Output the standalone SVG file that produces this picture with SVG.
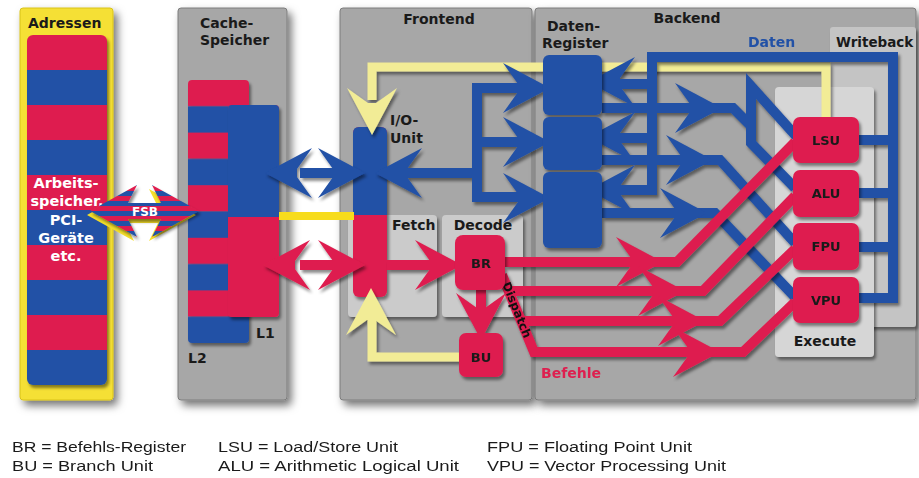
<svg xmlns="http://www.w3.org/2000/svg" width="919" height="478" viewBox="0 0 919 478">
<defs>
<style>
.lbl{font-family:"DejaVu Sans",sans-serif;font-weight:bold;font-size:14px;fill:#1a1a1a}
.ctr{text-anchor:middle}
.wl{font-family:"DejaVu Sans",sans-serif;font-weight:bold;font-size:14.5px;fill:#fff;text-anchor:middle}
.leg{font-family:"Liberation Sans",sans-serif;font-size:15.5px;fill:#1a1a1a}
.panel{fill:#a7a7a7;stroke:#7c7c7c;stroke-width:1}
.inner{fill:#cbcbcb}
.bl{fill:none;stroke:#2251a6;stroke-width:10;stroke-linejoin:miter}
.rd{fill:none;stroke:#de1f4f;stroke-width:10;stroke-linejoin:miter}
.yl{fill:none;stroke:#f2ec96;stroke-width:9}
.bf{fill:#2251a6}
.rf{fill:#de1f4f}
.yf{fill:#f2ec96}
</style>
<filter id="sh" filterUnits="userSpaceOnUse" x="0" y="0" width="919" height="478"><feDropShadow dx="4" dy="5" stdDeviation="4" flood-color="#000" flood-opacity="0.55"/></filter>
<filter id="sh2" filterUnits="userSpaceOnUse" x="0" y="0" width="919" height="478"><feDropShadow dx="2" dy="3" stdDeviation="1.5" flood-color="#000" flood-opacity="0.45"/></filter>
<path id="ah" d="M0,0 L-47,-25 L-32,-4 L-32,4 L-47,25 Z"/>
<pattern id="memp" x="0" y="35" width="20" height="70" patternUnits="userSpaceOnUse"><rect width="20" height="35" fill="#de1f4f"/><rect y="35" width="20" height="35" fill="#2251a6"/></pattern>
<pattern id="l2p" x="0" y="80" width="20" height="52.6" patternUnits="userSpaceOnUse"><rect width="20" height="26.3" fill="#de1f4f"/><rect y="26.3" width="20" height="26.3" fill="#2251a6"/></pattern>
<pattern id="fsbp" x="0" y="186" width="20" height="10" patternUnits="userSpaceOnUse"><rect width="20" height="5" fill="#de1f4f"/><rect y="5" width="20" height="5" fill="#2251a6"/></pattern>
</defs>
<rect width="919" height="478" fill="#fff"/>

<g id="adressen">
<rect x="20" y="8" width="93" height="392" rx="3" fill="#f5e035" stroke="#d8c21c" filter="url(#sh)"/>
<text class="lbl" x="28" y="28">Adressen</text>
<rect x="27" y="35" width="80" height="350" rx="6" fill="url(#memp)" filter="url(#sh2)"/>
<text class="wl" x="66" y="188">Arbeits-</text>
<text class="wl" x="67" y="206">speicher,</text>
<text class="wl" x="66" y="225">PCI-</text>
<text class="wl" x="66" y="243">Geräte</text>
<text class="wl" x="66" y="261">etc.</text>
</g>

<g id="cache">
<rect class="panel" x="178" y="8" width="109" height="392" rx="3" filter="url(#sh)"/>
<text class="lbl" x="200" y="28">Cache-</text>
<text class="lbl" x="200" y="45">Speicher</text>
<text class="lbl" x="188" y="363">L2</text>
<text class="lbl" x="256" y="338">L1</text>
</g>
<g id="l2"><rect x="188" y="80" width="61" height="263" rx="4" fill="url(#l2p)" filter="url(#sh2)"/></g>
<g id="l1" filter="url(#sh2)">
<rect x="228" y="105" width="51" height="212" rx="4" class="rf"/>
<path class="bf" d="M228,217 V109 Q228,105 232,105 H275 Q279,105 279,109 V217 Z"/>
</g>

<g id="frontend">
<rect class="panel" x="340" y="8" width="192" height="392" rx="3" filter="url(#sh)"/>
<text class="lbl ctr" x="439" y="24">Frontend</text>
</g>
<g id="backend">
<rect class="panel" x="535" y="8" width="381" height="392" rx="3" filter="url(#sh)"/>
<text class="lbl ctr" x="687" y="23">Backend</text>
<text class="lbl" x="547" y="31">Daten-</text>
<text class="lbl" x="542" y="48">Register</text>
</g>
<g id="writeback">
<rect x="830" y="27" width="86" height="300" rx="3" fill="#c4c4c4" filter="url(#sh2)"/>
<text class="lbl" x="836" y="47" style="font-size:13.5px">Writeback</text>
</g>
<g id="execute">
<rect x="775" y="87" width="99" height="270" rx="4" fill="#d6d6d6" filter="url(#sh2)"/>
<text class="lbl ctr" x="825" y="346">Execute</text>
</g>
<g id="fetch">
<rect class="inner" x="348" y="215" width="89" height="102" rx="4" filter="url(#sh2)"/>
<text class="lbl" x="392" y="230">Fetch</text>
</g>
<g id="decode">
<rect class="inner" x="442" y="215" width="81" height="102" rx="4" filter="url(#sh2)"/>
<text class="lbl ctr" x="483" y="230">Decode</text>
</g>
<g id="io-unit">
<g filter="url(#sh2)">
<rect x="353" y="127" width="34" height="170" rx="6" class="rf"/>
<path class="bf" d="M353,215 V133 Q353,127 359,127 H381 Q387,127 387,133 V215 Z"/>
</g>
<text class="lbl" x="390" y="125">I/O-</text>
<text class="lbl" x="390" y="143">Unit</text>
</g>

<g id="connectors">
<g id="fsb">
<polygon points="87,215 134,189 125,207 158,207 149,189 196,215 149,241 158,223 125,223 134,241" fill="#f5df2b"/>
<polygon points="90,211 137,185 128,203 161,203 152,185 199,211 152,237 161,219 128,219 137,237" fill="url(#fsbp)" filter="url(#sh2)"/>
<text x="145" y="216" style="font-family:'DejaVu Sans',sans-serif;font-weight:bold;font-size:12px;fill:#fff;text-anchor:middle">FSB</text>
</g>
<rect x="279" y="212" width="75" height="8" fill="#f7dc1c"/>
<g id="yellow" filter="url(#sh2)">
<path class="yl" d="M826,117 V67 H372 V100"/>
<use href="#ah" class="yf" transform="translate(372,135) rotate(90)"/>
<path class="yl" d="M459,357 H372 V320"/>
<use href="#ah" class="yf" transform="translate(371,288) rotate(-90)"/>
</g>
<g id="blue" filter="url(#sh2)">
<path class="bl" d="M300,173 H335"/>
<use href="#ah" class="bf" transform="translate(265,173) rotate(180)"/>
<use href="#ah" class="bf" transform="translate(365,173)"/>
<path class="bl" d="M525,88 H477 V197 H525 M477,142 H525 M477,173 H405"/>
<use href="#ah" class="bf" transform="translate(375,173) rotate(180)"/>
<use href="#ah" class="bf" transform="translate(550,88)"/>
<use href="#ah" class="bf" transform="translate(550,142)"/>
<use href="#ah" class="bf" transform="translate(550,198)"/>
<path class="bl" d="M859,140 H893 M859,193 H893 M859,247 H893 M859,298 H893 V57 H652 V190 H620 M652,84 H620 M652,138 H620"/>
<use href="#ah" class="bf" transform="translate(588,82) rotate(180)"/>
<use href="#ah" class="bf" transform="translate(588,137) rotate(180)"/>
<use href="#ah" class="bf" transform="translate(588,190) rotate(180)"/>
<path class="bl" d="M602,108 H733 L752,127"/>
<path class="bl" d="M796,136 L751,86 V143 L795,188"/>
<use href="#ah" class="bf" transform="translate(722,108)"/>
<path class="bl" d="M602,160 H720 L795,243"/>
<use href="#ah" class="bf" transform="translate(713,160)"/>
<path class="bl" d="M602,213 H715 L795,297"/>
<use href="#ah" class="bf" transform="translate(707,213)"/>
</g>
<g id="red" filter="url(#sh2)">
<path class="rd" d="M300,265 H335"/>
<use href="#ah" class="rf" transform="translate(263,265) rotate(180)"/>
<use href="#ah" class="rf" transform="translate(365,265)"/>
<path class="rd" d="M387,265 H440"/>
<use href="#ah" class="rf" transform="translate(462,265)"/>
<path class="rd" d="M481,290 V312"/>
<use href="#ah" class="rf" transform="translate(481,340) rotate(90)"/>
<path class="rd" d="M505,262 H677 L795,142"/>
<use href="#ah" class="rf" transform="translate(663,262)"/>
<path class="rd" d="M505,291 H703 L795,196"/>
<use href="#ah" class="rf" transform="translate(685,291)"/>
<path class="rd" d="M521,321 H720 L795,249"/>
<use href="#ah" class="rf" transform="translate(705,321)"/>
<path class="rd" d="M502,275 L534,352 H743 L795,302"/>
<use href="#ah" class="rf" transform="translate(720,352)"/>
</g>
<text x="0" y="0" transform="translate(502,284) rotate(68)" style="font-family:'DejaVu Sans',sans-serif;font-weight:bold;font-size:12px;fill:#111">Dispatch</text>
<text class="lbl" x="541" y="378" style="fill:#de1f4f">Befehle</text>
<text class="lbl" x="748" y="47" style="fill:#2251a6">Daten</text>
</g>

<g id="daten-register" filter="url(#sh2)">
<rect class="bf" x="543" y="55" width="59" height="60" rx="6"/>
<rect class="bf" x="543" y="117" width="59" height="53" rx="6"/>
<rect class="bf" x="543" y="172" width="59" height="76" rx="6"/>
</g>

<g id="br"><rect class="rf" x="455" y="235" width="50" height="55" rx="8" filter="url(#sh2)"/><text class="lbl ctr" x="481" y="268" style="font-size:13px">BR</text></g>
<g id="bu"><rect class="rf" x="459" y="333" width="44" height="44" rx="7" filter="url(#sh2)"/><text class="lbl ctr" x="481" y="362" style="font-size:13px">BU</text></g>
<g id="lsu"><rect class="rf" x="793" y="117" width="66" height="46" rx="7" filter="url(#sh2)"/><text class="lbl ctr" x="826" y="145" style="font-size:13px">LSU</text></g>
<g id="alu"><rect class="rf" x="793" y="170" width="66" height="47" rx="7" filter="url(#sh2)"/><text class="lbl ctr" x="826" y="198" style="font-size:13px">ALU</text></g>
<g id="fpu"><rect class="rf" x="793" y="223" width="66" height="47" rx="7" filter="url(#sh2)"/><text class="lbl ctr" x="826" y="251" style="font-size:13px">FPU</text></g>
<g id="vpu"><rect class="rf" x="793" y="277" width="66" height="46" rx="7" filter="url(#sh2)"/><text class="lbl ctr" x="826" y="305" style="font-size:13px">VPU</text></g>

<g id="legend">
<text class="leg" x="12" y="452" textLength="174" lengthAdjust="spacingAndGlyphs">BR = Befehls-Register</text>
<text class="leg" x="12" y="471" textLength="141" lengthAdjust="spacingAndGlyphs">BU = Branch Unit</text>
<text class="leg" x="218" y="452" textLength="180" lengthAdjust="spacingAndGlyphs">LSU = Load/Store Unit</text>
<text class="leg" x="218" y="471" textLength="241" lengthAdjust="spacingAndGlyphs">ALU = Arithmetic Logical Unit</text>
<text class="leg" x="487" y="452" textLength="205" lengthAdjust="spacingAndGlyphs">FPU = Floating Point Unit</text>
<text class="leg" x="487" y="471" textLength="239" lengthAdjust="spacingAndGlyphs">VPU = Vector Processing Unit</text>
</g>
</svg>
